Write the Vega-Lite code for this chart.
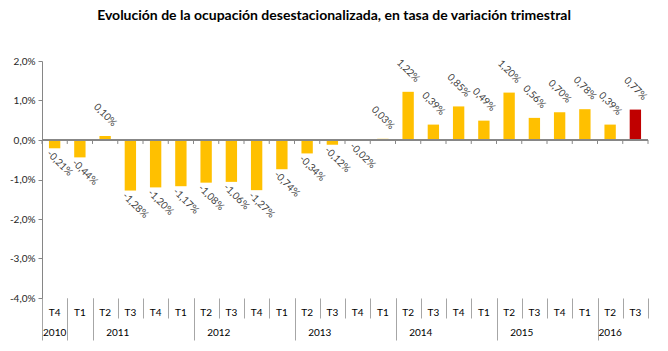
{
  "$schema": "https://vega.github.io/schema/vega-lite/v6.json",
  "width": 606,
  "height": 237,
  "autosize": {"type": "none"},
  "padding": {"left": 42, "top": 61, "right": 20, "bottom": 53},
  "background": "white",
  "config": {
    "locale": {"number": {"decimal": ",", "thousands": ".", "grouping": [3], "currency": ["", " €"], "minus": "-"}},
    "view": {"stroke": null},
    "font": "Lato",
    "axisY": {
      "title": null, "values": [-0.04, -0.03, -0.02, -0.01, 0, 0.01, 0.02],
      "format": ".1%", "grid": false, "domainColor": "#868686", "tickColor": "#868686",
      "tickSize": 4, "labelColor": "#262626", "labelFontSize": 10, "labelPadding": 3, "labelOverlap": false
    }
  },
  "title": {
    "text": "Evolución de la ocupación desestacionalizada, en tasa de variación trimestral",
    "font": "Lato",
    "fontSize": 14,
    "fontWeight": "bold",
    "color": "#000000",
    "anchor": "middle",
    "frame": "group",
    "dx": -11,
    "offset": 33
  },
  "data": {
    "values": [
      {"id": "2010-T4", "v": -0.0021},
      {"id": "2011-T1", "v": -0.0044},
      {"id": "2011-T2", "v": 0.0010},
      {"id": "2011-T3", "v": -0.0128},
      {"id": "2011-T4", "v": -0.0120},
      {"id": "2012-T1", "v": -0.0117},
      {"id": "2012-T2", "v": -0.0108},
      {"id": "2012-T3", "v": -0.0106},
      {"id": "2012-T4", "v": -0.0127},
      {"id": "2013-T1", "v": -0.0074},
      {"id": "2013-T2", "v": -0.0034},
      {"id": "2013-T3", "v": -0.0012},
      {"id": "2013-T4", "v": -0.0002},
      {"id": "2014-T1", "v": 0.0003},
      {"id": "2014-T2", "v": 0.0122},
      {"id": "2014-T3", "v": 0.0039},
      {"id": "2014-T4", "v": 0.0085},
      {"id": "2015-T1", "v": 0.0049},
      {"id": "2015-T2", "v": 0.0120},
      {"id": "2015-T3", "v": 0.0056},
      {"id": "2015-T4", "v": 0.0070},
      {"id": "2016-T1", "v": 0.0078},
      {"id": "2016-T2", "v": 0.0039},
      {"id": "2016-T3", "v": 0.0077}
    ]
  },
  "resolve": {"axis": {"x": "independent"}},
  "layer": [
    {
      "mark": {"type": "bar", "width": {"band": 0.45}},
      "encoding": {
        "x": {
          "field": "id", "type": "ordinal", "sort": null,
          "scale": {"paddingInner": 0, "paddingOuter": 0},
          "axis": {
            "orient": "bottom", "title": null, "tickBand": "extent", "labels": false, "domain": false,
            "tickColor": "#A6A6A6", "tickWidth": 1, "tickSize": 20
          }
        },
        "y": {
          "field": "v", "type": "quantitative",
          "scale": {"domain": [-0.04, 0.02], "nice": false}
        },
        "color": {"condition": {"test": "datum.id == '2016-T3'", "value": "#C00000"}, "value": "#FFC000"}
      }
    },
    {
      "mark": {"type": "rule", "color": "#868686"},
      "encoding": {"y": {"datum": 0}}
    },
    {
      "mark": {"type": "rule", "color": "#868686"},
      "encoding": {
        "x": {
          "field": "id", "type": "ordinal", "sort": null, "bandPosition": 0,
          "axis": {
            "orient": "bottom", "title": null, "ticks": false, "domain": false, "labelAngle": 0,
            "labelExpr": "slice(datum.value, 5)", "labelPadding": 9,
            "labelFontSize": 10, "labelColor": "#000000", "labelOverlap": false
          }
        },
        "y": {"datum": 0},
        "y2": {"datum": -0.001}
      }
    },
    {
      "transform": [{"filter": "datum.id == '2016-T3'"}],
      "mark": {"type": "rule", "color": "#868686"},
      "encoding": {
        "x": {
          "field": "id", "type": "ordinal", "sort": null, "bandPosition": 1,
          "axis": {
            "orient": "bottom", "title": null, "tickBand": "extent", "labels": false, "domain": false,
            "values": ["2010-T4", "2011-T1", "2012-T1", "2013-T1", "2014-T1", "2015-T1", "2016-T1"],
            "tickColor": "#A6A6A6", "tickWidth": 1, "tickSize": 42
          }
        },
        "y": {"datum": 0},
        "y2": {"datum": -0.001}
      }
    },
    {
      "transform": [{"filter": "datum.v >= 0"}],
      "mark": {"type": "text", "angle": 45, "dx": -14.8, "dy": -14.8, "fontSize": 10, "color": "#404040", "font": "Lato"},
      "encoding": {
        "x": {
          "field": "id", "type": "ordinal", "sort": null,
          "axis": {
            "orient": "bottom", "title": null, "ticks": false, "domain": false, "labelAngle": 0,
            "values": ["2011-T2", "2012-T2", "2013-T2", "2014-T2", "2015-T2"],
            "labelOffset": 12.6, "labelAlign": "center",
            "labelExpr": "slice(datum.value, 0, 4)", "labelPadding": 29,
            "labelFontSize": 10, "labelColor": "#000000", "labelOverlap": false
          }
        },
        "y": {"field": "v", "type": "quantitative"},
        "text": {"field": "v", "type": "quantitative", "format": ".2%"}
      }
    },
    {
      "transform": [{"filter": "datum.v < 0"}],
      "mark": {"type": "text", "angle": 45, "dx": 14.1, "dy": 7.1, "fontSize": 10, "color": "#404040", "font": "Lato"},
      "encoding": {
        "x": {
          "field": "id", "type": "ordinal", "sort": null,
          "axis": {
            "orient": "bottom", "title": null, "ticks": false, "domain": false, "labelAngle": 0,
            "values": ["2010-T4", "2016-T2"], "labelAlign": "center",
            "labelExpr": "slice(datum.value, 0, 4)", "labelPadding": 29,
            "labelFontSize": 10, "labelColor": "#000000", "labelOverlap": false
          }
        },
        "y": {"field": "v", "type": "quantitative"},
        "text": {"field": "v", "type": "quantitative", "format": ".2%"}
      }
    }
  ]
}
